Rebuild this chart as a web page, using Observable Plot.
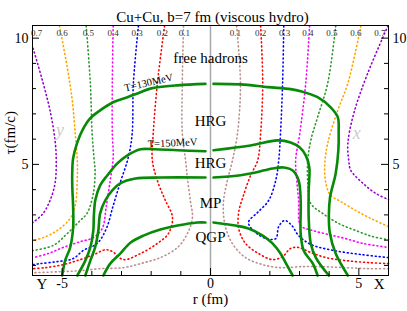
<!DOCTYPE html>
<html><head><meta charset="utf-8">
<script src="https://cdn.jsdelivr.net/npm/d3@7"></script>
<script src="https://cdn.jsdelivr.net/npm/@observablehq/plot@0.6"></script>
<style>body{margin:0;background:#fff} svg{display:block}</style>
</head><body><div id="chart"></div>
<script>
// ---------- text ----------
const title = "Cu+Cu, b=7 fm (viscous hydro)";
const xLabel = "r (fm)";
const yLabel = "\u03c4(fm/c)";
const xTicksMajor = [-5, 0, 5];
const xTicksMinor = [-4, -3, -2, -1, 1, 2, 3, 4];
const yTicksMajor = [5, 10];
const yTicksMinor = [1, 2, 3, 4, 6, 7, 8, 9];

// ---------- isotherms (thick green) : [r, tau] ----------
const isoT130Left = [[-5.00,0.60],[-4.90,1.19],[-4.73,1.71],[-4.63,2.50],[-4.63,3.29],[-4.66,4.17],[-4.66,4.70],[-4.63,5.24],[-4.49,5.87],[-4.32,6.35],[-4.05,6.83],[-3.72,7.14],[-3.28,7.46],[-2.80,7.66],[-2.36,7.86],[-2.03,8.00],[-1.11,8.13],[-0.17,8.19]];
const isoT130Right = [[0.10,8.19],[1.01,8.17],[1.93,8.06],[2.70,7.98],[3.04,7.90],[3.61,7.66],[4.05,7.26],[4.29,6.87],[4.32,6.23],[4.31,5.56],[4.22,4.64],[4.03,3.70],[3.99,3.00],[4.02,2.30],[4.22,1.47],[4.63,0.60]];
const isoT150Left = [[-4.49,0.60],[-4.22,1.19],[-4.05,1.71],[-3.95,2.38],[-3.93,3.00],[-3.88,3.60],[-3.72,4.17],[-3.48,4.56],[-3.14,5.04],[-2.80,5.36],[-2.36,5.60],[-1.90,5.60],[-1.11,5.56],[-0.17,5.52]];
const isoT150Right = [[0.10,5.56],[1.35,5.75],[2.26,5.95],[2.70,5.87],[3.01,5.67],[3.21,5.36],[3.33,4.88],[3.31,3.97],[3.31,2.90],[3.38,1.87],[3.55,1.31],[3.99,0.60]];
const isoHrgMpLeft = [[-4.22,0.60],[-4.05,1.19],[-3.89,1.71],[-3.78,2.38],[-3.72,3.06],[-3.55,3.57],[-3.31,3.97],[-3.04,4.25],[-2.53,4.44],[-1.69,4.48],[-0.17,4.48]];
const isoHrgMpRight = [[0.10,4.48],[0.95,4.56],[1.52,4.68],[2.09,4.84],[2.47,4.88],[2.77,4.76],[2.97,4.37],[3.04,3.57],[3.04,2.26],[3.14,1.59],[3.45,1.07],[3.61,0.60]];
const isoMpQgpLeft = [[-3.61,0.60],[-3.38,1.07],[-3.04,1.47],[-2.70,1.90],[-2.26,2.18],[-1.69,2.42],[-1.11,2.58],[-0.44,2.70],[-0.17,2.70]];
const isoMpQgpRight = [[0.10,2.70],[0.84,2.58],[1.28,2.46],[1.76,2.18],[2.09,1.87],[2.36,1.47],[2.53,1.11],[2.77,0.60]];

// ---------- flow-velocity contours (dotted) : [r, tau] ----------
const v07Left = [[-5.98,9.60],[-5.64,8.21],[-5.41,7.14],[-5.24,5.95],[-5.20,5.16],[-5.24,4.25],[-5.41,3.57],[-5.64,3.06],[-5.98,2.70]];
const v06Left = [[-5.09,10.48],[-4.83,8.85],[-4.66,7.54],[-4.56,6.23],[-4.49,5.16],[-4.49,4.48],[-4.56,3.37],[-4.73,2.86],[-5.17,2.38],[-5.64,2.10],[-5.98,1.98]];
const v05Left = [[-4.19,10.48],[-4.05,8.21],[-3.99,6.23],[-3.92,5.16],[-3.89,4.76],[-3.95,3.85],[-4.16,3.06],[-4.39,2.78],[-4.83,2.26],[-5.30,1.79],[-5.98,1.59]];
const v04Left = [[-3.28,10.48],[-3.31,8.21],[-3.31,6.23],[-3.28,5.28],[-3.38,4.37],[-3.51,3.37],[-3.65,2.46],[-3.95,2.10],[-4.39,1.94],[-4.97,1.71],[-5.47,1.47],[-5.98,1.31]];
const v03Left = [[-2.43,10.48],[-2.60,8.21],[-2.64,6.23],[-2.77,5.28],[-3.04,4.29],[-3.28,3.37],[-3.51,2.46],[-3.82,1.87],[-4.29,1.59],[-4.63,1.27],[-5.17,1.15],[-5.74,1.07],[-5.98,1.03]];
const v02Left = [[-1.55,10.48],[-1.79,8.21],[-1.93,6.23],[-1.96,5.16],[-1.76,4.25],[-1.52,3.57],[-1.28,2.90],[-1.42,2.26],[-1.79,1.87],[-2.36,1.47],[-2.94,1.23],[-3.31,1.55],[-3.55,1.62],[-3.89,1.45],[-4.39,1.23],[-4.97,1.03],[-5.57,0.91],[-5.98,0.87]];
const v01Left = [[-0.91,10.48],[-0.95,8.21],[-0.95,6.23],[-0.84,5.16],[-0.78,4.48],[-0.68,3.57],[-0.61,2.90],[-0.78,2.26],[-1.11,1.71],[-1.69,1.31],[-2.36,1.07],[-2.94,0.91],[-3.72,0.87],[-4.39,0.79],[-5.07,0.75],[-5.98,0.71]];
const v01Right = [[0.88,10.48],[1.01,8.21],[0.91,6.23],[0.74,5.16],[0.57,4.37],[0.44,3.57],[0.44,2.98],[0.54,2.38],[0.78,1.79],[1.18,1.31],[1.76,1.03],[2.36,0.91],[3.04,0.95],[3.72,0.95],[4.56,0.91],[5.34,0.87],[6.00,0.87]];
const v02Right = [[1.69,10.48],[1.76,8.21],[1.69,6.23],[1.59,5.16],[1.35,4.56],[1.11,3.77],[0.95,3.10],[0.95,2.46],[1.18,1.87],[1.62,1.47],[2.09,1.23],[2.43,1.35],[2.70,1.67],[2.97,1.71],[3.38,1.51],[3.89,1.31],[4.56,1.19],[5.34,1.11],[6.00,1.07]];
const v03Right = [[2.47,10.48],[2.43,8.21],[2.36,6.23],[2.30,5.16],[2.20,4.37],[1.96,3.57],[1.59,3.10],[1.28,2.70],[1.52,2.30],[1.89,2.06],[2.20,2.06],[2.30,2.54],[2.50,2.78],[2.74,2.58],[2.97,2.18],[3.38,1.83],[4.16,1.59],[5.07,1.43],[6.00,1.31]];
const v04Right = [[3.34,10.48],[3.21,8.21],[3.01,6.23],[2.87,5.16],[2.91,4.37],[2.97,3.57],[3.04,2.58],[3.45,2.38],[3.99,2.22],[4.56,2.06],[5.14,1.87],[6.00,1.71]];
const v05Right = [[4.22,10.48],[3.95,8.21],[3.61,6.87],[3.38,5.95],[3.28,5.16],[3.28,4.25],[3.38,3.45],[3.78,3.06],[4.32,2.66],[4.90,2.38],[5.47,2.14],[6.00,2.02]];
const v06Right = [[5.07,10.48],[4.63,8.21],[4.29,7.14],[3.95,5.83],[3.85,4.96],[3.89,4.25],[4.05,3.77],[4.39,3.53],[4.90,3.17],[5.47,2.82],[6.00,2.54]];
const v07Right = [[5.98,10.48],[5.30,8.61],[4.83,7.02],[4.63,5.83],[4.66,5.16],[4.73,4.76],[5.14,4.25],[5.57,3.85],[6.00,3.61]];

const vLevels = ["0.1","0.2","0.3","0.4","0.5","0.6","0.7"];
const vColors = ["#bc8f8f","#ff0000","#0000ff","#ff00ff","#2a9a2a","#ffa500","#9400d3"];
const vLabelRLeft = [-0.88,-1.62,-2.47,-3.28,-4.12,-5.00,-5.86];
const vLabelRRight = [0.84,1.69,2.50,3.28,4.09,4.90,5.71];
const vLabelTau = 10.2;

// ---------- region annotations ----------
const regionNames = ["free hadrons","HRG","HRG","MP","QGP"];
const regionTau = [9.21, 6.71, 5.04, 3.45, 2.10];
const isoLabels = ["T=130MeV","T=150MeV"];
const isoLabelR = [-2.08, -1.28];
const isoLabelTau = [8.24, 5.85];
const dirLetters = ["y","x"];
const dirR = [-5.07, 4.93];
const dirTau = [6.35, 6.23];

// ---------- build ----------
const W = 407, H = 311;
const mL = 32, mR = 19, mT = 25, mB = 36;
const innerW = W - mL - mR, innerH = H - mT - mB;
const serif = "'Liberation Serif','Times New Roman',serif";
const toRows = pts => pts.map(([r, tau]) => ({r, tau}));

const vLeftSets = [v01Left, v02Left, v03Left, v04Left, v05Left, v06Left, v07Left];
const vRightSets = [v01Right, v02Right, v03Right, v04Right, v05Right, v06Right, v07Right];
const isoSets = [isoT130Left, isoT130Right, isoT150Left, isoT150Right, isoHrgMpLeft, isoHrgMpRight, isoMpQgpLeft, isoMpQgpRight];

const dotted = [];
vLevels.forEach((lv, i) => {
  for (const set of [vLeftSets[i], vRightSets[i]]) {
    dotted.push(Plot.line(toRows(set), {x: "r", y: "tau", stroke: vColors[i], strokeWidth: 1.6,
      strokeDasharray: "1,3", curve: "catmull-rom"}));
  }
});
const greens = isoSets.map(set => Plot.line(toRows(set), {x: "r", y: "tau", stroke: "#078a07",
  strokeWidth: 2.6, curve: "catmull-rom"}));

const vLabelRows = vLevels.flatMap((lv, i) => [
  {r: vLabelRLeft[i], tau: vLabelTau, t: lv},
  {r: vLabelRRight[i], tau: vLabelTau, t: lv}]);

const chart = Plot.plot({
  width: W, height: H,
  marginLeft: mL, marginRight: mR, marginTop: mT, marginBottom: mB,
  x: {domain: [-6, 6], axis: null},
  y: {domain: [0.6, 10.5], axis: null},
  style: {fontFamily: serif, background: "#fff", overflow: "visible"},
  marks: [
    Plot.ruleX([0], {stroke: "#a8a8a8", strokeWidth: 1.5}),
    ...dotted,
    ...greens,
    Plot.frame({stroke: "#000", strokeWidth: 1}),
    // ticks (inward)
    Plot.ruleX(xTicksMinor, {x: d => d, insetTop: innerH - 4, stroke: "#000"}),
    Plot.ruleX(xTicksMajor, {x: d => d, insetTop: innerH - 7, stroke: "#000"}),
    Plot.ruleY(yTicksMinor, {y: d => d, insetRight: innerW - 4, stroke: "#000"}),
    Plot.ruleY(yTicksMajor, {y: d => d, insetRight: innerW - 7, stroke: "#000"}),
    Plot.ruleY(yTicksMinor, {y: d => d, insetLeft: innerW - 4, stroke: "#000"}),
    Plot.ruleY(yTicksMajor, {y: d => d, insetLeft: innerW - 7, stroke: "#000"}),
    // tick labels
    Plot.text(xTicksMajor, {x: d => d, text: d => String(d), frameAnchor: "bottom", dy: 12, fontSize: 14, fontFamily: serif}),
    Plot.text(yTicksMajor, {y: d => d, text: d => String(d), frameAnchor: "left", textAnchor: "end", dx: -4, fontSize: 14, fontFamily: serif}),
    Plot.text(yTicksMajor, {y: d => d, text: d => String(d), frameAnchor: "right", textAnchor: "start", dx: 4, fontSize: 14, fontFamily: serif}),
    Plot.text(["Y"], {text: d => d, frameAnchor: "bottom-left", dx: 4, dy: 13, fontSize: 15, fontFamily: serif}),
    Plot.text(["X"], {text: d => d, frameAnchor: "bottom-right", dx: -4, dy: 13, fontSize: 15, fontFamily: serif}),
    // axis titles and title
    Plot.text([xLabel], {text: d => d, frameAnchor: "bottom", dy: 28, fontSize: 15, fontFamily: serif}),
    Plot.text([yLabel], {text: d => d, frameAnchor: "left", rotate: -90, dx: -22, dy: 4, fontSize: 15, fontFamily: serif}),
    Plot.text([title], {text: d => d, frameAnchor: "top", dx: 2, dy: -14, fontSize: 15, fontFamily: serif}),
    // contour labels
    Plot.text(vLabelRows, {x: "r", y: "tau", text: "t", fontSize: 9, fill: "#333", fontFamily: serif}),
    // regions
    Plot.text(regionNames, {x: () => 0, y: (d, i) => regionTau[i], text: d => d, fontSize: 15, fontFamily: serif}),
    Plot.text(isoLabels, {x: (d, i) => isoLabelR[i], y: (d, i) => isoLabelTau[i], text: d => d, rotate: -13, fontSize: 10.5, fontFamily: serif, filter: (d, i) => i === 0}),
    Plot.text(isoLabels, {x: (d, i) => isoLabelR[i], y: (d, i) => isoLabelTau[i], text: d => d, rotate: -3, fontSize: 10.5, fontFamily: serif, filter: (d, i) => i === 1}),
    Plot.text(dirLetters, {x: (d, i) => dirR[i], y: (d, i) => dirTau[i], text: d => d, fontSize: 18, fontStyle: "italic", fill: "#cccccc", fontFamily: serif})
  ]
});
document.getElementById("chart").appendChild(chart);
</script></body></html>
